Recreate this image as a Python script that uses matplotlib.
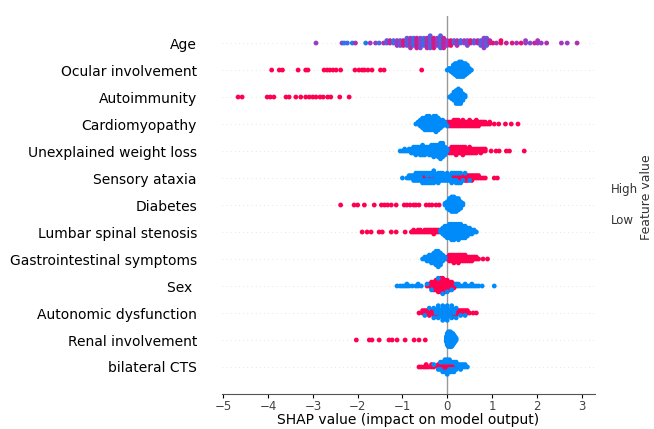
import numpy as np
import matplotlib
matplotlib.use("Agg")
import matplotlib.pyplot as plt
from matplotlib.colors import LinearSegmentedColormap

# feature names, top row first
features = ["Age", "Ocular involvement", "Autoimmunity", "Cardiomyopathy",
            "Unexplained weight loss", "Sensory ataxia", "Diabetes",
            "Lumbar spinal stenosis", "Gastrointestinal symptoms", "Sex ",
            "Autonomic dysfunction", "Renal involvement", "bilateral CTS"]

# Age: shap value, number of points there, feature value (0 low .. 1 high)
age_x = [-2.93, -2.35, -2.3, -2.23, -2.12, -2.05, -1.82, -1.72, -1.6, -1.52,
         -1.42, -1.35, -1.28, -1.2, -1.12, -1.05, -0.98, -0.9, -0.82, -0.75,
         -0.68, -0.6, -0.52, -0.45, -0.38, -0.3, -0.22, -0.15, -0.08, 0.0,
         0.08, 0.15, 0.22, 0.3, 0.38, 0.45, 0.52, 0.6, 0.68, 0.75,
         0.82, 0.88, 0.95, 1.02, 1.1, 1.2, 1.32, 1.45, 1.55, 1.65,
         1.75, 1.85, 1.95, 2.02, 2.1, 2.22, 2.55, 2.68, 2.9]
age_n = [1, 1, 1, 1, 1, 1, 1, 1, 1, 1,
         1, 2, 2, 2, 3, 3, 3, 4, 5, 4,
         5, 5, 4, 5, 6, 5, 4, 6, 5, 3,
         3, 2, 3, 2, 2, 3, 2, 2, 2, 3,
         5, 4, 2, 1, 1, 2, 1, 1, 1, 1,
         2, 1, 1, 2, 1, 1, 1, 1, 1]
age_c = [0.5, 0.45, 0.1, 0.2, 0.1, 0.6, 0.1, 0.55, 0.5, 0.2,
         0.6, 0.3, 0.7, 0.2, 0.55, 0.35, 0.8, 0.3, 0.6, 0.2,
         0.75, 0.4, 0.2, 0.65, 0.3, 0.8, 0.45, 0.25, 0.7, 0.5,
         0.9, 0.3, 0.6, 0.2, 0.55, 0.4, 0.8, 0.3, 0.7, 0.25,
         0.5, 0.3, 0.7, 0.85, 0.6, 0.9, 0.7, 0.8, 0.6, 0.85,
         0.5, 0.4, 0.7, 0.55, 0.5, 0.6, 0.55, 0.5, 0.6]

# binary features: shap values of high (red) and low (blue) points + counts
ocular_red = [-3.92, -3.75, -3.68, -3.33, -3.16, -3.11, -2.75, -2.68, -2.62,
              -2.55, -2.48, -2.38, -2.06, -1.97, -1.9, -1.85, -1.77, -1.68,
              -1.49, -1.41, -0.57]
ocular_blue = [0.0, 0.045, 0.09, 0.135, 0.18, 0.225, 0.27, 0.315, 0.36,
               0.405, 0.45, 0.495, 0.54]
ocular_blue_n = [1, 2, 3, 6, 8, 9, 10, 10, 9, 8, 6, 3, 1]

autoimm_red = [-4.67, -4.58, -4.02, -3.95, -3.87, -3.6, -3.53, -3.38, -3.27,
               -3.16, -3.08, -3.0, -2.93, -2.84, -2.77, -2.67, -2.6, -2.4, -2.19]
autoimm_blue = [0.05, 0.1, 0.15, 0.2, 0.25, 0.3, 0.35, 0.4]
autoimm_blue_n = [1, 3, 6, 9, 10, 9, 5, 2]

cardio_red = [0.0, 0.05, 0.1, 0.15, 0.2, 0.25, 0.3, 0.35, 0.4, 0.45, 0.5,
              0.55, 0.6, 0.65, 0.7, 0.75, 0.8, 0.85, 0.9, 0.95, 1.05, 1.15,
              1.3, 1.43, 1.58]
cardio_red_n = [2, 3, 3, 4, 4, 4, 3, 4, 3, 3, 4, 3, 3, 4, 3, 2, 2, 2, 1, 2,
                1, 1, 1, 1, 1]
cardio_blue = [-0.7, -0.65, -0.6, -0.55, -0.5, -0.45, -0.4, -0.35, -0.3,
               -0.25, -0.2, -0.15, -0.1, -0.05, 0.0]
cardio_blue_n = [1, 2, 4, 6, 7, 8, 8, 7, 8, 9, 7, 5, 4, 2, 1]

weight_red = [0.05, 0.1, 0.15, 0.2, 0.25, 0.3, 0.35, 0.4, 0.45, 0.5, 0.55,
              0.6, 0.65, 0.7, 0.75, 0.8, 0.85, 0.98, 1.09, 1.16, 1.32, 1.39,
              1.72]
weight_red_n = [3, 4, 4, 5, 4, 4, 5, 4, 3, 4, 3, 3, 3, 2, 3, 2, 2, 1, 1, 1,
                1, 1, 1]
weight_blue = [-1.05, -1.0, -0.95, -0.9, -0.85, -0.8, -0.75, -0.7, -0.65,
               -0.6, -0.55, -0.5, -0.45, -0.4, -0.35, -0.3, -0.25, -0.2,
               -0.15, -0.1, -0.05, 0.0]
weight_blue_n = [1, 1, 2, 1, 2, 3, 4, 5, 4, 5, 6, 5, 4, 5, 6, 7, 6, 7, 9, 8,
                 5, 2]

ataxia_red = [-0.65, -0.55, -0.5, -0.45, -0.4, -0.35, -0.3, -0.2, -0.1, 0.0,
              0.1, 0.15, 0.2, 0.25, 0.3, 0.35, 0.4, 0.45, 0.5, 0.55, 0.6,
              0.65, 0.7, 0.75, 0.8, 0.85, 1.05, 1.12]
ataxia_red_n = [1, 2, 2, 1, 2, 1, 2, 1, 1, 1, 2, 2, 2, 3, 3, 2, 3, 3, 2, 3,
                2, 2, 2, 1, 1, 1, 1, 1]
ataxia_blue = [-1.0, -0.9, -0.85, -0.8, -0.75, -0.7, -0.65, -0.6, -0.55,
               -0.5, -0.45, -0.4, -0.35, -0.3, -0.25, -0.2, -0.15, -0.1,
               -0.05, 0.0, 0.05, 0.1, 0.15, 0.2, 0.25, 0.3, 0.35, 0.4, 0.5]
ataxia_blue_n = [1, 1, 2, 2, 3, 4, 3, 4, 3, 3, 4, 3, 4, 4, 3, 4, 4, 3, 3, 3,
                 3, 3, 2, 3, 2, 2, 1, 1, 1]

diabetes_red = [-2.38, -2.08, -2.0, -1.85, -1.63, -1.47, -1.4, -1.33, -1.25,
                -1.14, -0.96, -0.9, -0.83, -0.75, -0.7, -0.63, -0.47, -0.4,
                -0.34, -0.25, -0.18]
diabetes_blue = [-0.05, 0.0, 0.05, 0.1, 0.15, 0.2, 0.25, 0.3, 0.35]
diabetes_blue_n = [2, 5, 8, 10, 10, 9, 8, 5, 2]

lumbar_red = [-1.9, -1.79, -1.7, -1.52, -1.45, -1.25, -1.14, -0.94, -0.8,
              -0.75, -0.7, -0.65, -0.6, -0.55, -0.5, -0.45, -0.4, -0.35,
              -0.3, -0.25, -0.2]
lumbar_red_n = [1, 1, 1, 1, 1, 1, 1, 1, 1, 2, 1, 2, 2, 1, 2, 2, 2, 2, 3, 2, 2]
lumbar_blue = [-0.15, -0.1, -0.05, 0.0, 0.05, 0.1, 0.15, 0.2, 0.25, 0.3,
               0.35, 0.4, 0.45, 0.5, 0.55, 0.6, 0.65]
lumbar_blue_n = [2, 4, 6, 7, 8, 9, 9, 8, 9, 8, 7, 7, 5, 4, 3, 2, 1]

gi_red = [0.0, 0.05, 0.1, 0.15, 0.2, 0.25, 0.3, 0.35, 0.4, 0.45, 0.5, 0.55,
          0.6, 0.65, 0.7, 0.8, 0.9]
gi_red_n = [2, 4, 4, 5, 4, 5, 4, 4, 4, 3, 3, 3, 2, 2, 1, 1, 1]
gi_blue = [-0.55, -0.5, -0.45, -0.4, -0.35, -0.3, -0.25, -0.2, -0.15, -0.1,
           -0.05]
gi_blue_n = [1, 2, 3, 4, 5, 6, 8, 9, 7, 4, 2]

sex_red = [-0.45, -0.4, -0.35, -0.3, -0.25, -0.2, -0.15, -0.1, -0.05, 0.0,
           0.05, 0.1, 0.15, 0.2]
sex_red_n = [1, 2, 4, 5, 6, 7, 8, 8, 7, 6, 5, 4, 3, 1]
sex_blue = [-1.12, -1.05, -1.0, -0.95, -0.9, -0.85, -0.78, -0.7, -0.65,
            -0.58, -0.45, -0.35, -0.2, -0.1, 0.0, 0.1, 0.2, 0.25, 0.3, 0.35,
            0.4, 0.45, 0.5, 0.55, 0.6, 0.65, 0.7, 0.78, 1.05]
sex_blue_n = [1, 1, 1, 1, 2, 1, 1, 1, 2, 1, 1, 1, 1, 1, 1, 1, 1, 2, 1, 1,
              2, 1, 1, 2, 1, 1, 1, 1, 1]

auto_red = [-0.63, -0.55, -0.5, -0.45, -0.4, -0.35, -0.3, -0.2, -0.1, 0.0,
            0.1, 0.2, 0.25, 0.3, 0.35, 0.4, 0.45, 0.5, 0.58, 0.65]
auto_red_n = [1, 2, 2, 2, 3, 2, 3, 3, 3, 3, 3, 3, 2, 2, 2, 2, 2, 1, 1, 1]
auto_blue = [-0.5, -0.4, -0.3, -0.25, -0.2, -0.15, -0.1, -0.05, 0.0, 0.05,
             0.1, 0.15, 0.2, 0.3, 0.4]
auto_blue_n = [1, 1, 2, 2, 3, 3, 4, 4, 4, 3, 3, 2, 2, 1, 1]

renal_red = [-2.03, -1.74, -1.68, -1.52, -1.3, -1.23, -1.12, -0.94, -0.74,
             -0.63, -0.49]
renal_blue = [-0.02, 0.0, 0.025, 0.05, 0.075, 0.1, 0.125, 0.15, 0.175, 0.2]
renal_blue_n = [4, 8, 10, 10, 10, 9, 8, 6, 4, 2]

cts_red = [-0.63, -0.58, -0.52, -0.47, -0.42, -0.35, -0.3, -0.2, -0.15, -0.1,
           -0.05, 0.0, 0.05, 0.1, 0.15, 0.2, 0.3]
cts_red_n = [1, 1, 1, 2, 1, 2, 1, 2, 2, 3, 3, 3, 2, 2, 2, 1, 1]
cts_blue = [-0.3, -0.2, -0.15, -0.1, -0.05, 0.0, 0.05, 0.1, 0.15, 0.2, 0.25,
            0.3, 0.35, 0.4, 0.45]
cts_blue_n = [1, 1, 2, 2, 3, 4, 4, 3, 3, 3, 2, 2, 2, 2, 1]


def expand(vals, counts=None):
    if counts is None:
        counts = [1] * len(vals)
    return np.repeat(vals, counts)


def binary(red, blue, red_n=None, blue_n=None):
    r = expand(red, red_n)
    b = expand(blue, blue_n)
    return np.concatenate([r, b]), np.concatenate([np.ones(len(r)), np.zeros(len(b))])


def swarm(x, row_height=0.4, nbins=100):
    # same stacking as shap's beeswarm
    quant = np.round(nbins * (x - x.min()) / (x.max() - x.min() + 1e-8))
    order = np.argsort(quant, kind="stable")
    ys = np.zeros(len(x))
    layer, last = 0, None
    for i in order:
        if quant[i] != last:
            layer = 0
        ys[i] = np.ceil(layer / 2) * ((layer % 2) * 2 - 1)
        layer += 1
        last = quant[i]
    ys *= 0.9 * (row_height / np.max(ys + 1))
    return ys


rows = [
    (expand(age_x, age_n), np.repeat(age_c, age_n)),
    binary(ocular_red, ocular_blue, None, ocular_blue_n),
    binary(autoimm_red, autoimm_blue, None, autoimm_blue_n),
    binary(cardio_red, cardio_blue, cardio_red_n, cardio_blue_n),
    binary(weight_red, weight_blue, weight_red_n, weight_blue_n),
    binary(ataxia_red, ataxia_blue, ataxia_red_n, ataxia_blue_n),
    binary(diabetes_red, diabetes_blue, None, diabetes_blue_n),
    binary(lumbar_red, lumbar_blue, lumbar_red_n, lumbar_blue_n),
    binary(gi_red, gi_blue, gi_red_n, gi_blue_n),
    binary(sex_red, sex_blue, sex_red_n, sex_blue_n),
    binary(auto_red, auto_blue, auto_red_n, auto_blue_n),
    binary(renal_red, renal_blue, None, renal_blue_n),
    binary(cts_red, cts_blue, cts_red_n, cts_blue_n),
]

cmap = LinearSegmentedColormap.from_list("red_blue", ["#008bfb", "#9a3bc8", "#ff0051"])

fig = plt.figure(figsize=(6.54, 4.29), dpi=100)
ax = fig.add_axes([0.3394, 0.0816, 0.5704, 0.881])

n = len(features)
for i, (x, c) in enumerate(rows):
    pos = n - 1 - i
    ax.axhline(pos, color="#cccccc", lw=0.5, dashes=(1, 5), zorder=-1)
    ys = swarm(x)
    ax.scatter(x, pos + ys, c=c, cmap=cmap, vmin=0, vmax=1, s=12,
               linewidth=0, zorder=3, rasterized=True)

ax.axvline(0, color="#999999", lw=1, zorder=-1)
ax.set_xlim(-5.03, 3.3)
ax.set_ylim(-1, n)
ax.set_yticks(range(n))
ax.set_yticklabels(features[::-1], fontsize=10)
ax.tick_params("y", length=0, pad=18)
ax.tick_params("x", labelsize=8.5, labelcolor="#444444", length=3, pad=1.5)
for s in ["left", "right", "top"]:
    ax.spines[s].set_visible(False)
ax.spines["bottom"].set_color("#555555")
ax.set_xlabel("SHAP value (impact on model output)", fontsize=10, labelpad=0)

fig.text(0.934, 0.559, "High", fontsize=8.5, ha="left", va="center", color="#333333")
fig.text(0.934, 0.485, "Low", fontsize=8.5, ha="left", va="center", color="#333333")
fig.text(0.998, 0.54, "Feature value", fontsize=9, rotation=90, ha="right",
         va="center", color="#333333")

fig.savefig("out.png", dpi=100)
